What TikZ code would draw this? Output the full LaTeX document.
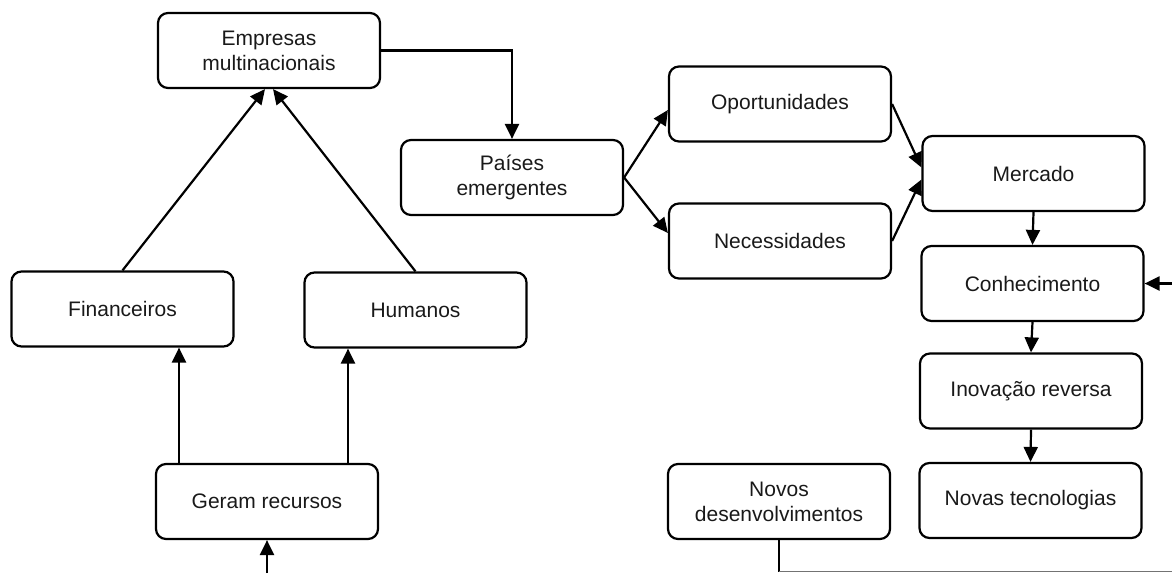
\documentclass[tikz,border=0pt]{standalone}
\usepackage{fontspec}
\setmainfont{Liberation Sans}
\usetikzlibrary{arrows.meta}
\begin{document}
\begin{tikzpicture}[x=1pt,y=-1pt,
  box/.style={draw=black, line width=2.2pt, rounded corners=10pt, minimum width=222pt, minimum height=75pt, inner sep=0pt, align=center, font=\fontsize{21}{25}\selectfont, text=black!90},
  arr/.style={line width=2.2pt, -{Triangle[length=15pt,width=14pt]}},
  ln/.style={line width=2.2pt}]
\useasboundingbox (0,0) rectangle (1172,573);
\node[box] (emp) at (269,50.5) {Empresas\\multinacionais};
\node[box] (pai) at (512,177.5) {Países\\emergentes};
\node[box] (opo) at (780,104) {Oportunidades};
\node[box] (nec) at (780,241) {Necessidades};
\node[box] (mer) at (1033.5,173.5) {Mercado};
\node[box] (con) at (1032.5,283.5) {Conhecimento};
\node[box] (ino) at (1031,391) {Inovação reversa};
\node[box] (nov) at (1030.5,500.5) {Novas tecnologias};
\node[box] (des) at (779,501.5) {Novos\\desenvolvimentos};
\node[box] (fin) at (122.5,309) {Financeiros};
\node[box] (hum) at (415.5,310) {Humanos};
\node[box] (ger) at (267,501.5) {Geram recursos};
% connectors
\draw[arr] (emp.east) -| (pai.north);
\draw[arr] (pai.east) -- ([yshift=-6pt]opo.west);
\draw[arr] (pai.east) -- ([yshift=8pt]nec.west);
\draw[arr] (opo.east) -- ([yshift=6pt]mer.west);
\draw[arr] (nec.east) -- ([yshift=-6pt]mer.west);
\draw[arr] (mer.south) -- (con.north);
\draw[arr] (con.south) -- (ino.north);
\draw[arr] (ino.south) -- (nov.north);
\coordinate (r) at (1172,283.5);
\draw[arr] (r) -- (con.east);
\coordinate (c1) at (779,571.5);
\coordinate (c2) at (1172,571.5);
\draw[ln] (des.south) -- (c1);
\draw[line width=1.5pt, black!55] (c1) -- (c2);
\draw[arr] (fin.north) -- ([xshift=-4pt]emp.south);
\draw[arr] (hum.north) -- ([xshift=4pt]emp.south);
\coordinate (gf) at ([xshift=-88pt]ger.north);
\coordinate (gh) at ([xshift=81pt]ger.north);
\draw[arr] (gf) -- (gf |- fin.south);
\draw[arr] (gh) -- (gh |- hum.south);
\coordinate (gb) at (267,573);
\draw[arr] (gb) -- (ger.south);
\end{tikzpicture}
\end{document}
